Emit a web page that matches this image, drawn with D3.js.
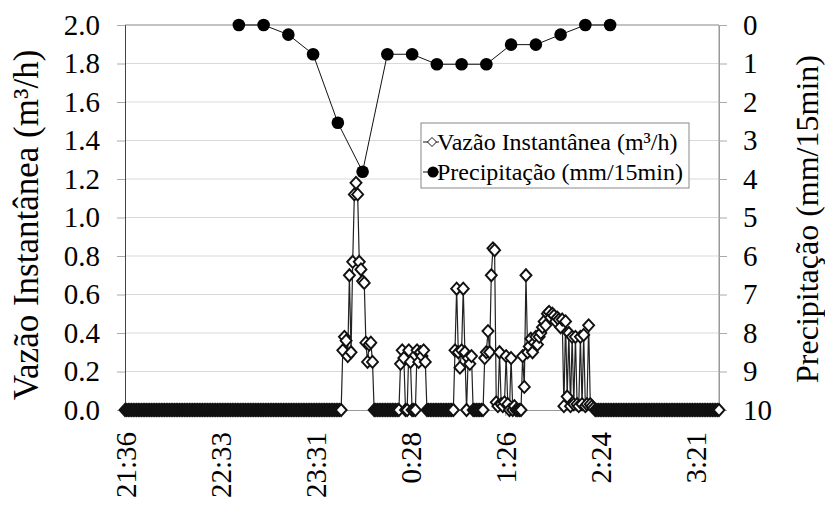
<!DOCTYPE html>
<html><head><meta charset="utf-8">
<script src="https://cdn.jsdelivr.net/npm/d3@7"></script>
<style>
body{margin:0;background:#fff}
svg text{font-family:"Liberation Serif","Times New Roman",Times,Tinos,"Nimbus Roman","DejaVu Serif",serif !important;fill:#000}
</style>
</head><body>
<svg id="c" width="825" height="506"></svg>
<script>
// ---------------- DATA ----------------
const flowStart = "21:36";      // first flow reading
const flowStepMin = 1;          // one reading per minute
const flowEnd = "3:36";         // axis end
// Vazão instantânea (m³/h), one value per minute from 21:36
const flowValues = [
0,0,0,0,0,0,0,0,0,0,0,0,0,0,0,0,0,0,0,0,
0,0,0,0,0,0,0,0,0,0,0,0,0,0,0,0,0,0,0,0,
0,0,0,0,0,0,0,0,0,0,0,0,0,0,0,0,0,0,0,0,
0,0,0,0,0,0,0,0,0,0,0,0,0,0,0,0,0,0,0,0,
0,0,0,0,0,0,0,0,0,0,0,0,0,0,0,0,0,0,0,0,
0,0,0,0,0,0,0,0,0,0,0,0,0,0,0,0,0,0,0,0,
0,0,0,0,0,0,0,0,0,0,0,0,
0.31,0.38,0.36,0.28,0.70,0.30,0.77,1.12,1.18,1.12,0.77,0.73,0.67,0.66,0.35,0.25,0.34,0.35,0.25,
0,0,0,0,0,0,0,0,0,0,0,0,0,0,0,0,
0.24,0.31,0.27,0,0,0.31,0.25,0,0,0,0.31,0.25,0.30,0.28,0.31,0.25,
0,0,0,0,0,0,0,0,0,0,0,0,0,0,0,0,0,
0.31,0.63,0.30,0.22,0.31,0.63,0.30,0,0.27,0.24,0.28,
0,0,0,0,0,0,0,
0.27,0.30,0.41,0.30,0.70,0.84,0.83,0.04,0.02,0.30,0.03,0.02,0.04,0.28,0.03,0,0.27,0,0.02,0,0,0,0,
0.28,0.12,0.70,0.30,0.33,0.37,0.30,0.35,0.38,0.34,0.38,0.40,0.43,0.46,0.44,0.50,0.51,0.48,0.50,0.49,
0.46,0.48,0.47,0.43,0.47,0.02,0.46,0.07,0.40,0.02,0.38,0.03,0.38,0.03,0.02,0.38,0.03,0.39,0.02,0.03,
0.44,0.03,0.02,0.01,
0,0,0,0,0,0,0,0,0,0,0,0,0,0,0,0,0,0,0,0,
0,0,0,0,0,0,0,0,0,0,0,0,0,0,0,0,0,0,0,0,
0,0,0,0,0,0,0,0,0,0,0,0,0,0,0,0,0,0,0,0,
0,0,0,0,0,0,0,0,0,0,0,0,0,0,0,0
];
// Precipitação (mm/15min)
const precTimes = ["22:45","23:00","23:15","23:30","23:45","0:00","0:15","0:30","0:45","1:00","1:15","1:30","1:45","2:00","2:15","2:30"];
const precValues = [0,0,0.25,0.76,2.54,3.81,0.76,0.76,1.02,1.02,1.02,0.51,0.51,0.25,0,0];
// Axis ticks
const xTickLabels = ["21:36","22:33","23:31","0:28","1:26","2:24","3:21"];
const xTickStepMin = 57.6;   // 0.04 day
const flowTicks = [0,0.2,0.4,0.6,0.8,1.0,1.2,1.4,1.6,1.8,2.0];
const precTicks = [0,1,2,3,4,5,6,7,8,9,10];
const seriesNames = ["Vazão Instantânea (m³/h)","Precipitação (mm/15min)"];
const axisTitles = ["Vazão Instantânea (m³/h)","Precipitação (mm/15min)"];

// ---------------- HELPERS ----------------
function toMin(t){ // minutes after flowStart, crossing midnight
  const [h,m] = t.split(":").map(Number);
  const [h0,m0] = flowStart.split(":").map(Number);
  let v = h*60+m - (h0*60+m0);
  if (v < 0) v += 1440;
  return v;
}
const FONT = '"Liberation Serif","Times New Roman",Times,Tinos,"Nimbus Roman","DejaVu Serif",serif';

// ---------------- CHART ----------------
const svg = d3.select("#c");
const L = 125, R = 719, T = 25, B = 410;
const x = d3.scaleLinear().domain([0, toMin(flowEnd)]).range([L, R]);
const yF = d3.scaleLinear().domain([0, 2]).range([B, T]);
const yP = d3.scaleLinear().domain([0, 10]).range([T, B]);

// gridlines
svg.append("g").selectAll("line").data(flowTicks.filter(d=>d>0)).join("line")
  .attr("x1", L).attr("x2", R).attr("y1", d=>yF(d)).attr("y2", d=>yF(d))
  .attr("stroke", "#d9d9d9").attr("stroke-width", 1);

// plot border (top / right)
svg.append("line").attr("x1",L).attr("x2",R).attr("y1",T).attr("y2",T).attr("stroke","#999");
svg.append("line").attr("x1",R).attr("x2",R).attr("y1",T).attr("y2",B).attr("stroke","#999");

// left axis
const gL = svg.append("g").attr("transform", `translate(${L},0)`)
  .call(d3.axisLeft(yF).tickValues(flowTicks).tickFormat(d3.format(".1f")).tickSize(8).tickPadding(17));
gL.attr("font-family", FONT);
gL.select(".domain").attr("stroke", "#444");
gL.selectAll(".tick line").attr("stroke", "#aaa");
gL.selectAll(".tick text").attr("font-size", 29);

// right axis
const gR = svg.append("g").attr("transform", `translate(${R},0)`)
  .call(d3.axisRight(yP).tickValues(precTicks).tickSize(8).tickPadding(16));
gR.attr("font-family", FONT);
gR.select(".domain").attr("stroke", "#999");
gR.selectAll(".tick line").attr("stroke", "#aaa");
gR.selectAll(".tick text").attr("font-size", 29);

// bottom axis
const xTickVals = xTickLabels.map((d,i)=>i*xTickStepMin);
const gB = svg.append("g").attr("transform", `translate(0,${B})`)
  .call(d3.axisBottom(x).tickValues(xTickVals).tickFormat((d,i)=>xTickLabels[i]).tickSize(6).tickSizeOuter(0));
gB.attr("font-family", FONT);
gB.select(".domain").attr("stroke", "#999");
gB.selectAll(".tick line").attr("stroke", "#999");
gB.selectAll(".tick text").attr("font-size", 29)
  .attr("text-anchor","end").attr("transform","rotate(-90)")
  .attr("x", -22).attr("y", 0).attr("dy", "0.35em");

// axis titles
svg.append("text").attr("transform", `translate(38,${(40+410)/2}) rotate(-90)`)
  .attr("text-anchor","middle").attr("font-size", 35).attr("font-family", FONT).text(axisTitles[0]);
svg.append("text").attr("transform", `translate(818,${(55+383)/2}) rotate(-90)`)
  .attr("text-anchor","middle").attr("font-size", 32).attr("font-family", FONT).text(axisTitles[1]);

// flow series
const flowPts = flowValues.map((v,i)=>({t:i*flowStepMin, v}));
svg.append("path").datum(flowPts)
  .attr("d", d3.line().x(d=>x(d.t)).y(d=>yF(d.v)))
  .attr("fill","none").attr("stroke","#222").attr("stroke-width",1.2);
const diamond = "M0,-6L5.5,0L0,6L-5.5,0Z";
svg.append("g").selectAll("path").data(flowPts).join("path")
  .attr("d", diamond).attr("transform", d=>`translate(${x(d.t)},${yF(d.v)})`)
  .attr("fill","#fff").attr("stroke","#111").attr("stroke-width",1.9);

// precipitation series
const precPts = precTimes.map((t,i)=>({t:toMin(t), v:precValues[i]}));
svg.append("path").datum(precPts)
  .attr("d", d3.line().x(d=>x(d.t)).y(d=>yP(d.v)))
  .attr("fill","none").attr("stroke","#111").attr("stroke-width",1);
svg.append("g").selectAll("circle").data(precPts).join("circle")
  .attr("cx", d=>x(d.t)).attr("cy", d=>yP(d.v)).attr("r", 6.3).attr("fill","#000");

// legend
const lg = svg.append("g").attr("transform","translate(421,123)").attr("font-family", FONT);
lg.append("rect").attr("width",268).attr("height",65).attr("fill","#fff").attr("stroke","#888");
[0,1].forEach(i=>{
  const cy = 19 + i*30;
  lg.append("line").attr("x1",2).attr("x2",18).attr("y1",cy).attr("y2",cy).attr("stroke","#111");
  if (i===0) lg.append("path").attr("d","M0,-4.5L4.5,0L0,4.5L-4.5,0Z").attr("transform",`translate(11,${cy})`)
      .attr("fill","#fff").attr("stroke","#111");
  else lg.append("circle").attr("cx",12).attr("cy",cy).attr("r",5.5).attr("fill","#000");
  lg.append("text").attr("x",16).attr("y",cy).attr("dy","0.35em").attr("font-size",24).text(seriesNames[i]);
});
</script>
</body></html>
